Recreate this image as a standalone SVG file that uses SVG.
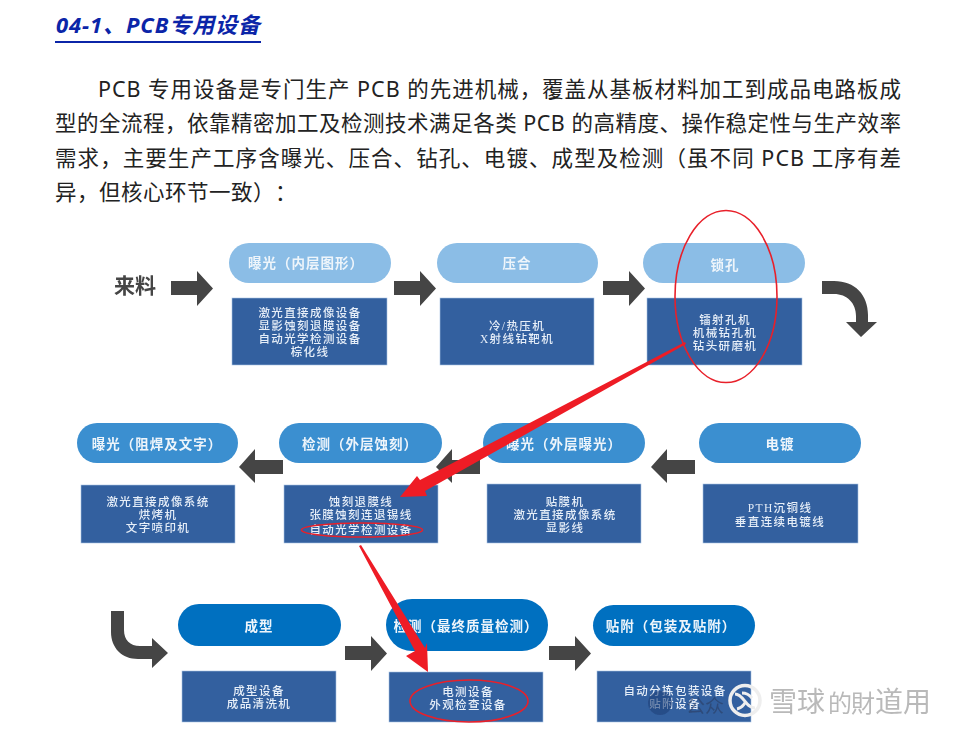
<svg xmlns="http://www.w3.org/2000/svg" width="963" height="732" viewBox="0 0 963 732">
<defs>
<filter id="soft" x="-5%" y="-5%" width="110%" height="110%"><feGaussianBlur stdDeviation="0.45"/></filter>
<filter id="softer" x="-20%" y="-20%" width="140%" height="140%"><feGaussianBlur stdDeviation="0.7"/></filter>
<path id="arrowR" d="M0 10H26V0L42 17.500L26 35V24H0Z"/>
<path id="arrowL" d="M44 11H16V0L0 18L16 34V25H44Z"/>
</defs>
<style>
text{font-family:"Noto Sans CJK SC","Liberation Sans",sans-serif;text-spacing-trim:space-all}
.title{font-family:"Noto Sans","Noto Sans CJK SC",sans-serif;font-size:22px;font-weight:700;font-style:italic;fill:#0b25a8}
.para{font-family:"Noto Sans","Noto Sans CJK SC",sans-serif;font-size:21.500px;fill:#222}
.p1{fill:#8bbde6}.p2{fill:#3b8fd0}.p3{fill:#0070c0}
.box{fill:#33609f;stroke:#a9c4e4;stroke-width:.6}
.pt{font-size:13.500px;font-weight:700;fill:#eef5fb;text-anchor:middle;letter-spacing:1px;filter:url(#soft)}
.bt{font-family:"Liberation Serif","Noto Sans CJK SC",serif;font-size:11.500px;font-weight:500;fill:#e6eef8;text-anchor:middle;letter-spacing:1.400px;filter:url(#soft)}
.dark{fill:#454545}
.ring{fill:none;stroke:#e8202a;stroke-width:1.600}
.red{fill:#ee1c25}
.wm{font-size:28px;fill:#8a8a8a;fill-opacity:.6;filter:url(#soft)}
</style>
<rect width="963" height="732" fill="#fff"/>
<g id="heading">
<text class="title" x="56" y="33" textLength="204" lengthAdjust="spacing">04-1、PCB专用设备</text>
<rect x="55" y="41" width="206" height="2" fill="#0b25a8"/>
</g>
<g id="paragraph">
<text class="para" x="98" y="97" textLength="803" lengthAdjust="spacing">PCB 专用设备是专门生产 PCB 的先进机械，覆盖从基板材料加工到成品电路板成</text>
<text class="para" x="55" y="131" textLength="846" lengthAdjust="spacing">型的全流程，依靠精密加工及检测技术满足各类 PCB 的高精度、操作稳定性与生产效率</text>
<text class="para" x="55" y="166" textLength="846" lengthAdjust="spacing">需求，主要生产工序含曝光、压合、钻孔、电镀、成型及检测（虽不同 PCB 工序有差</text>
<text class="para" x="55" y="200" letter-spacing=".5">异，但核心环节一致）：</text>
</g>
<g id="source"><text x="135" y="293" font-size="21" font-weight="700" fill="#444" text-anchor="middle" filter="url(#soft)">来料</text></g>

<g id="n1"><rect class="p1" x="229" y="243" width="162" height="40" rx="20"/><text class="pt" x="306" y="268">曝光（内层图形）</text>
<rect class="box" x="232" y="298" width="155" height="67"/><text class="bt"><tspan x="310" y="317">激光直接成像设备</tspan><tspan x="310" y="330">显影蚀刻退膜设备</tspan><tspan x="310" y="343">自动光学检测设备</tspan><tspan x="310" y="356">棕化线</tspan></text></g>
<g id="n2"><rect class="p1" x="437" y="243" width="161" height="40" rx="20"/><text class="pt" x="517" y="268">压合</text>
<rect class="box" x="440" y="298" width="154" height="67"/><text class="bt"><tspan x="517" y="330">冷/热压机</tspan><tspan x="517" y="343">X射线钻靶机</tspan></text></g>
<g id="n3"><rect class="p1" x="643" y="243" width="162" height="40" rx="20"/><text class="pt" x="725" y="270">锁孔</text>
<rect class="box" x="647" y="298" width="155" height="67"/><text class="bt"><tspan x="725" y="324">镭射孔机</tspan><tspan x="725" y="337">机械钻孔机</tspan><tspan x="725" y="350">钻头研磨机</tspan></text></g>

<g id="n4"><rect class="p2" x="77" y="423" width="161" height="40" rx="20"/><text class="pt" x="157" y="449">曝光（阻焊及文字）</text>
<rect class="box" x="81" y="485" width="154" height="58"/><text class="bt"><tspan x="158" y="506">激光直接成像系统</tspan><tspan x="158" y="519">烘烤机</tspan><tspan x="158" y="532">文字喷印机</tspan></text></g>
<g id="n5"><rect class="p2" x="279" y="423" width="163" height="40" rx="20"/><text class="pt" x="360" y="449">检测（外层蚀刻）</text>
<rect class="box" x="284" y="485" width="154" height="58"/><text class="bt"><tspan x="361" y="506">蚀刻退膜线</tspan><tspan x="361" y="519">张膜蚀刻连退锡线</tspan><tspan x="361" y="534">自动光学检测设备</tspan></text></g>
<g id="n6"><rect class="p2" x="483" y="423" width="162" height="40" rx="20"/><text class="pt" x="564" y="449">曝光（外层曝光）</text>
<rect class="box" x="487" y="484" width="154" height="59"/><text class="bt"><tspan x="565" y="506">贴膜机</tspan><tspan x="565" y="519">激光直接成像系统</tspan><tspan x="565" y="532">显影线</tspan></text></g>
<g id="n7"><rect class="p2" x="699" y="423" width="162" height="40" rx="20"/><text class="pt" x="780" y="449">电镀</text>
<rect class="box" x="703" y="484" width="155" height="59"/><text class="bt"><tspan x="780" y="512">PTH沉铜线</tspan><tspan x="780" y="526">垂直连续电镀线</tspan></text></g>

<g id="n8"><rect class="p3" x="178" y="604" width="163" height="42" rx="21"/><text class="pt" x="259" y="631">成型</text>
<rect class="box" x="182" y="671" width="154" height="51"/><text class="bt"><tspan x="259" y="695">成型设备</tspan><tspan x="259" y="708">成品清洗机</tspan></text></g>
<g id="n9"><rect class="p3" x="386" y="599" width="162" height="52" rx="26"/><text class="pt" x="466" y="631">检测（最终质量检测）</text>
<rect class="box" x="389" y="672" width="154" height="50"/><text class="bt"><tspan x="468" y="696">电测设备</tspan><tspan x="468" y="709">外观检查设备</tspan></text></g>
<g id="n10"><rect class="p3" x="593" y="605" width="162" height="41" rx="20.500"/><text class="pt" x="671" y="631">贴附（包装及贴附）</text>
<rect class="box" x="597" y="671" width="154" height="51"/><text class="bt"><tspan x="675" y="695">自动分拣包装设备</tspan><tspan x="675" y="708">贴附设备</tspan></text></g>

<g id="connectors" class="dark">
<use href="#arrowR" x="171" y="271"/>
<use href="#arrowR" x="394" y="271"/>
<use href="#arrowR" x="603" y="271"/>
<path d="M822 281H834C855 281 868 295 868 315V322H877L861 337L846 322H856V316C856 303 847 294 834 294H822Z"/>
<use href="#arrowL" x="239" y="449"/>
<use href="#arrowL" x="436" y="449"/>
<use href="#arrowL" x="651" y="449"/>
<path d="M111 611H124V630C124 640 130 646 140 646H152V638L168 653L152 668V659H138C122 659 111 648 111 632Z"/>
<use href="#arrowR" x="345" y="636"/>
<use href="#arrowR" x="549" y="636"/>
</g>

<g id="watermark">
<circle cx="660" cy="703" r="12" fill="#1f3f78" fill-opacity=".6" filter="url(#softer)"/>
<text x="686" y="713" font-size="19" fill="#2a3f66" fill-opacity=".65" filter="url(#soft)">公众</text>
<circle cx="745" cy="700.500" r="15" fill="none" stroke="#eeeeee" stroke-width="3.500"/>
<path d="M735 694C744 694 745 708 755 708M737 709C743 708 746 701 746 701M742 693C748 693 752 698 752 698" fill="none" stroke="#eeeeee" stroke-width="3"/>
<text class="wm" x="769" y="712">雪球</text>
<text class="wm" x="828" y="712" style="font-size:24px">的</text>
<text class="wm" x="851" y="712" style="font-size:24px">財</text>
<text class="wm" x="875" y="712">道用</text>
</g>

<g id="annotations">
<ellipse class="ring" cx="726" cy="296.500" rx="51" ry="86"/>
<ellipse class="ring" cx="362" cy="530" rx="60.500" ry="7"/>
<ellipse class="ring" cx="469" cy="701" rx="59" ry="21"/>
<path class="red" d="M400 497L417 476L420 480L685 342L686 344L425 491L427 496Z"/>
<path class="red" d="M359 546L361 545L425 648L427 643L428 672L406 656L415 651Z"/>
</g>
</svg>
